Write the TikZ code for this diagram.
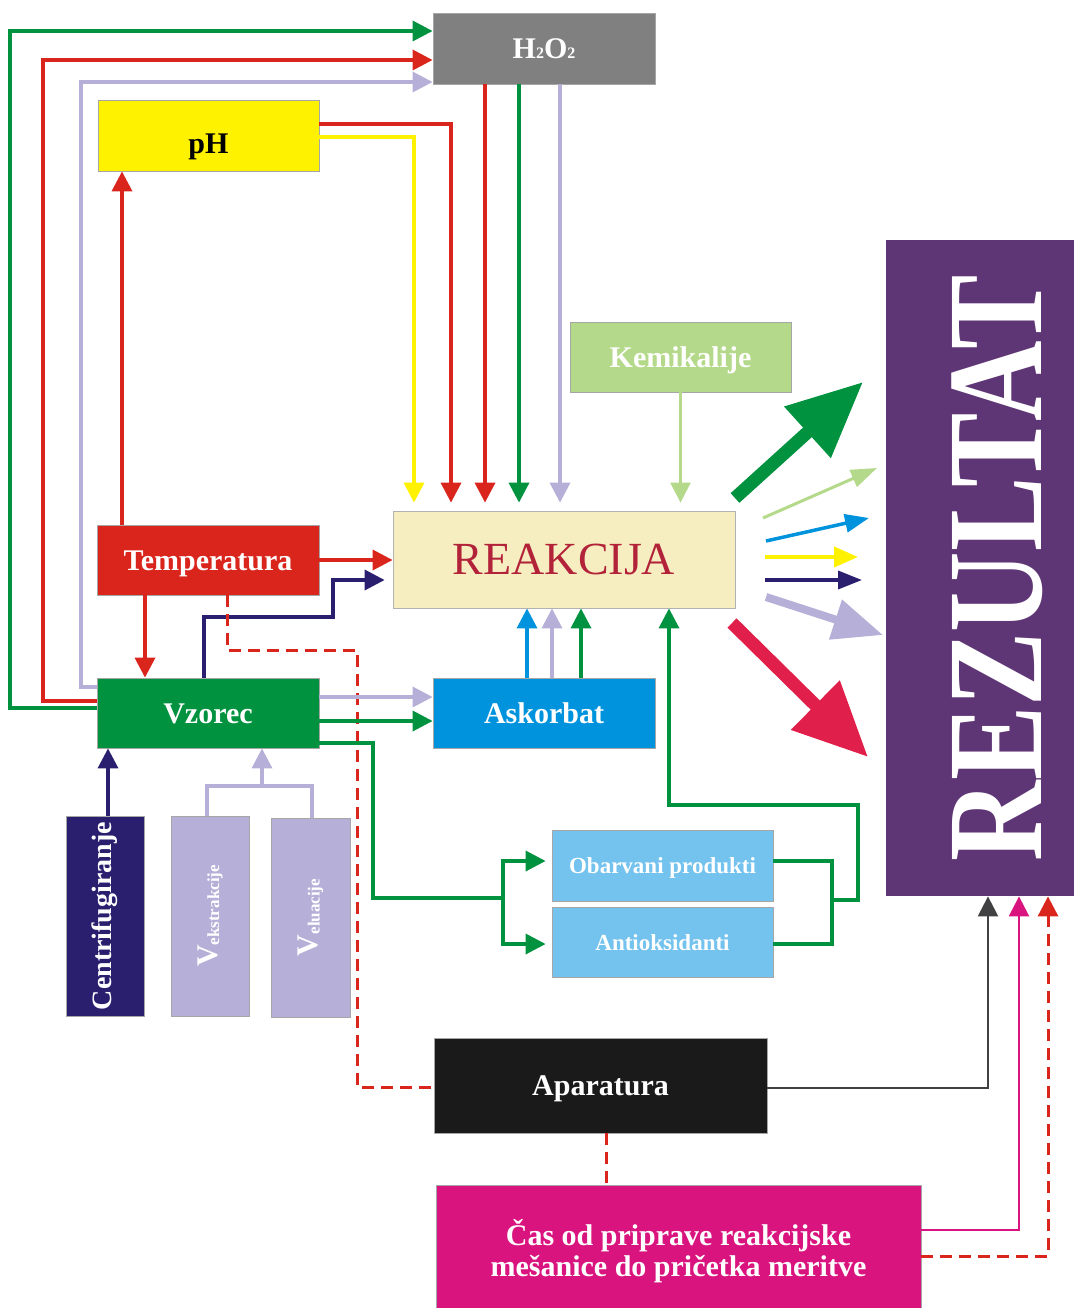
\documentclass[tikz,border=0pt]{standalone}
\usepackage{fontspec}
\setmainfont{Liberation Serif}
\usetikzlibrary{arrows.meta}

\definecolor{cgray}{HTML}{808080}
\definecolor{cyellow}{HTML}{FFF200}
\definecolor{cred}{HTML}{DA251D}
\definecolor{cgreen}{HTML}{00923F}
\definecolor{cblue}{HTML}{0093DD}
\definecolor{clight}{HTML}{74C2EE}
\definecolor{ckemi}{HTML}{B5D98A}
\definecolor{creak}{HTML}{F6EDC1}
\definecolor{creaktext}{HTML}{B22238}
\definecolor{cnavy}{HTML}{2A1E6E}
\definecolor{clav}{HTML}{B6B0D8}
\definecolor{cblack}{HTML}{1A1A1A}
\definecolor{cmag}{HTML}{D9147F}
\definecolor{crez}{HTML}{5F3675}
\definecolor{ccrimson}{HTML}{E0204A}
\definecolor{cdark}{HTML}{414042}

\newcommand{\subfont}{\fontsize{16}{16}\selectfont}

\tikzset{
  box/.style={rectangle, inner sep=0pt, draw=black!35, line width=0.8pt, text=white,
    align=center, font=\bfseries\fontsize{30}{31}\selectfont},
  tbox/.style={box, text height=26pt, text depth=6pt},
  sbox/.style={box, text height=21pt, text depth=5pt, font=\bfseries\fontsize{23}{23}\selectfont},
  conn/.style={line width=3.5pt, -{Triangle[length=20pt,width=20pt]}},
  link/.style={line width=3.5pt},
  dashlink/.style={line width=3pt, cred, dash pattern=on 12pt off 7pt}
}

\begin{document}
\begin{tikzpicture}[x=1pt,y=-1pt]
	\useasboundingbox (0,0) rectangle (1074,1308);

	% DRAW THE BOXES
	\node[tbox, fill=cgray, minimum width=222pt, minimum height=71pt] (h2o2) at (544,48.5) {H{\subfont 2}O{\subfont 2}};
	\node[tbox, fill=cyellow, text=black, text height=42pt, minimum width=221pt, minimum height=71pt] (ph) at (208.5,135.5) {pH};
	\node[tbox, fill=ckemi, minimum width=221pt, minimum height=70pt] (kemi) at (680.5,357) {Kemikalije};
	\node[box, fill=creak, draw=black!30, text=creaktext, font=\fontsize{46}{46}\selectfont,
		minimum width=342pt, minimum height=97pt] (reak) at (564,559.5) {REAKCIJA};
	\node[tbox, fill=cred, minimum width=222pt, minimum height=70pt] (temp) at (208,560) {Temperatura};
	\node[tbox, fill=cgreen, minimum width=222pt, minimum height=70pt] (vzorec) at (208,713) {Vzorec};
	\node[tbox, fill=cblue, minimum width=222pt, minimum height=70pt] (askor) at (544,713) {Askorbat};
	\node[box, fill=cnavy, minimum width=78pt, minimum height=200pt,
		font=\bfseries\fontsize{28}{28}\selectfont] (centri) at (105,916) {\rotatebox{90}{Centrifugiranje}};
	\node[box, fill=clav, minimum width=78pt, minimum height=200pt] (vekstr) at (210,916)
		{\rotatebox{90}{V\raisebox{-2pt}{\fontsize{17}{17}\selectfont ekstrakcije}}};
	\node[box, fill=clav, minimum width=79pt, minimum height=199pt] (velu) at (310.5,917.5)
		{\rotatebox{90}{V\raisebox{-2pt}{\fontsize{17}{17}\selectfont eluacije}}};
	\node[sbox, fill=clight, minimum width=221pt, minimum height=71pt] (obarv) at (662.5,865.5) {Obarvani produkti};
	\node[sbox, fill=clight, minimum width=221pt, minimum height=70pt] (antiox) at (662.5,942) {Antioksidanti};
	\node[tbox, fill=cblack, minimum width=333pt, minimum height=95pt] (apar) at (600.5,1085.5) {Aparatura};
	\node[box, fill=cmag, minimum width=485pt, minimum height=132pt] (cas) at (678.5,1251)
		{Čas od priprave reakcijske\\mešanice do pričetka meritve};
	\node[box, fill=crez, draw=none, minimum width=188pt, minimum height=656pt] (rez) at (980,568)
		{\hspace*{34pt}\rotatebox{90}{\scalebox{0.82}[1]{\fontsize{136}{136}\selectfont REZULTAT}}};

	% INPUTS TO H2O2
	\draw[conn, cgreen] (vzorec.west |- 0,708) -| (10,31) -- (h2o2.west |- 0,31);
	\draw[conn, cred] (vzorec.west |- 0,701) -| (43,60) -- (h2o2.west |- 0,60);
	\draw[conn, clav] (vzorec.west |- 0,687) -| (81,82) -- (h2o2.west |- 0,82);

	% TEMPERATURA AND PH
	\draw[conn, cred] (temp.north -| 122,0) -- (ph.south -| 122,0);
	\draw[conn, cred, shorten >=8pt] (ph.east |- 0,124) -| (reak.north -| 451,0);
	\draw[conn, cyellow, shorten >=8pt] (ph.east |- 0,137) -| (reak.north -| 414,0);

	% H2O2 AND KEMIKALIJE TO REAKCIJA
	\draw[conn, cred, shorten >=8pt] (h2o2.south -| 485,0) -- (reak.north -| 485,0);
	\draw[conn, cgreen, shorten >=8pt] (h2o2.south -| 519,0) -- (reak.north -| 519,0);
	\draw[conn, clav, shorten >=8pt] (h2o2.south -| 560,0) -- (reak.north -| 560,0);
	\draw[conn, ckemi, line width=2.5pt, shorten >=8pt] (kemi.south) -- (reak.north -| kemi.south);

	% LEFT SIDE
	\draw[conn, cred] (temp.east) -- (reak.west |- temp.east);
	\draw[conn, cnavy, shorten >=8pt] (vzorec.north -| 204,0) |- (333,617) |- (reak.west |- 0,580);
	\draw[conn, cred] (temp.south -| 145,0) -- (vzorec.north -| 145,0);
	\draw[dashlink] (temp.south -| 227,0) |- (357,650) |- (apar.west |- 0,1087);

	% VZOREC TO ASKORBAT
	\draw[conn, clav] (vzorec.east |- 0,697) -- (askor.west |- 0,697);
	\draw[conn, cgreen] (vzorec.east |- 0,721) -- (askor.west |- 0,721);
	\draw[conn, cblue] (askor.north -| 527,0) -- (reak.south -| 527,0);
	\draw[conn, clav] (askor.north -| 552,0) -- (reak.south -| 552,0);
	\draw[conn, cgreen] (askor.north -| 581,0) -- (reak.south -| 581,0);

	% PRODUKTI AND ANTIOKSIDANTI
	\draw[link, cgreen] (vzorec.east |- 0,743) -| (373,898) -- (503,898) coordinate (split);
	\draw[conn, cgreen, shorten >=6pt] (split) |- (obarv.west |- 0,861);
	\draw[conn, cgreen, shorten >=6pt] (split) |- (antiox.west |- 0,944);
	\draw[link, cgreen] (obarv.east |- 0,861) -| (832,900) coordinate (merge);
	\draw[link, cgreen] (antiox.east |- 0,944) -| (merge);
	\draw[conn, cgreen] (merge) -- (858,900) |- (669,805) -- (reak.south -| 669,0);

	% BOTTOM LEFT INPUTS
	\draw[conn, cnavy] (centri.north -| 108,0) -- (vzorec.south -| 108,0);
	\coordinate (vjoin) at (262,786);
	\draw[link, clav] (vekstr.north -| 207,0) |- (vjoin) -| (velu.north -| 312,0);
	\draw[conn, clav] (vjoin) -- (vzorec.south -| vjoin);

	% APARATURA AND CAS
	\draw[dashlink] (apar.south -| 606,0) -- (cas.north -| 606,0);
	\draw[conn, cdark, line width=2.5pt] (apar.east |- 0,1088) -| (rez.south -| 988,0);
	\draw[conn, cmag, line width=2.5pt] (cas.east |- 0,1230) -| (rez.south -| 1019,0);
	\draw[conn, dashlink] (cas.east |- 0,1256) -| (rez.south -| 1048,0);

	% OUTPUT ARROWS
	\coordinate (g1) at (735,498); \coordinate (g2) at (863,382);
	\coordinate (k1) at (763,518); \coordinate (k2) at (877,468);
	\coordinate (b1) at (766,541); \coordinate (b2) at (869,518);
	\coordinate (y1) at (765,557); \coordinate (y2) at (858,557);
	\coordinate (n1) at (765,580); \coordinate (n2) at (862,580);
	\coordinate (l1) at (766,597); \coordinate (l2) at (883,635);
	\coordinate (r1) at (732,623); \coordinate (r2) at (868,757);
	\draw[cgreen, line width=13pt, -{Triangle[length=75pt,width=66pt]}] (g1) -- (g2);
	\draw[ckemi, line width=3pt, -{Triangle[length=26pt,width=18pt]}] (k1) -- (k2);
	\draw[cblue, line width=3.5pt, -{Triangle[length=24pt,width=18pt]}] (b1) -- (b2);
	\draw[cyellow, line width=4pt, -{Triangle[length=24pt,width=20pt]}] (y1) -- (y2);
	\draw[cnavy, line width=3.5pt, -{Triangle[length=24pt,width=18pt]}] (n1) -- (n2);
	\draw[clav, line width=8pt, -{Triangle[length=50pt,width=40pt]}] (l1) -- (l2);
	\draw[ccrimson, line width=13pt, -{Triangle[length=74pt,width=66pt]}] (r1) -- (r2);
\end{tikzpicture}
\end{document}
